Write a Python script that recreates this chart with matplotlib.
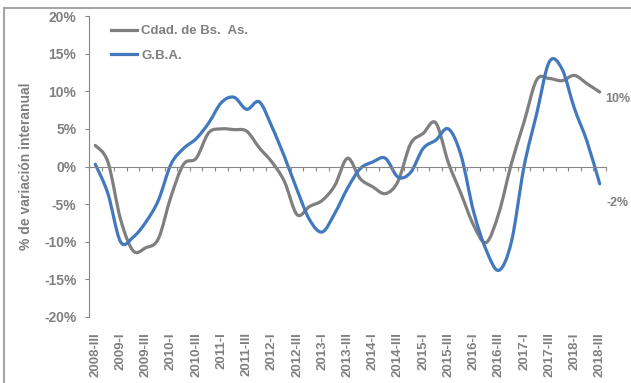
import numpy as np
import matplotlib.pyplot as plt
from matplotlib.path import Path
from matplotlib.patches import PathPatch
from matplotlib.lines import Line2D

plt.rcParams['font.family'] = ['Liberation Sans', 'DejaVu Sans']

# quarterly periods 2008-III .. 2018-III
years = list(range(2008, 2019))
roman = ['I', 'II', 'III', 'IV']
quarters = [f'{y}-{q}' for y in years for q in roman][2:-1]

caba = [2.8, 0.6, -7.0, -11.2, -10.8, -9.6, -4.0, 0.3, 1.1, 4.5,
        5.0, 4.9, 4.7, 2.5, 0.6, -2.0, -6.4, -5.3, -4.5, -2.5,
        1.1, -1.6, -2.7, -3.6, -2.0, 3.0, 4.4, 5.8, 0.5, -3.6,
        -7.8, -10.1, -6.2, 0.4, 5.9, 11.5, 11.7, 11.4, 12.1, 11.0,
        9.9]
gba = [0.3, -3.6, -10.0, -9.4, -7.4, -4.5, 0.3, 2.4, 3.7, 5.8,
       8.5, 9.2, 7.6, 8.6, 5.3, 1.3, -3.1, -7.1, -8.7, -6.2,
       -2.9, -0.3, 0.6, 1.1, -1.4, -0.8, 2.4, 3.5, 5.0, 1.5,
       -6.0, -11.1, -13.8, -10.0, 0.0, 7.0, 13.9, 13.0, 7.7, 3.3,
       -2.3]

GRAY = '#7f7f7f'
BLUE = '#4178be'
TXT = '#808080'
AXC = '#868686'


def smooth_path(ys):
    # excel-like smoothed line: bezier segments through the points
    pts = np.column_stack([np.arange(len(ys), dtype=float), ys])
    n = len(pts)
    verts = [pts[0]]
    codes = [Path.MOVETO]
    for i in range(n - 1):
        p0 = pts[max(i - 1, 0)]
        p1 = pts[i]
        p2 = pts[i + 1]
        p3 = pts[min(i + 2, n - 1)]
        verts += [p1 + (p2 - p0) / 6., p2 - (p3 - p1) / 6., p2]
        codes += [Path.CURVE4] * 3
    return Path(verts, codes)


fig = plt.figure(figsize=(6.31, 3.83), dpi=100)
ax = fig.add_axes([89/631, 1-317/383, 517/631, 301/383])

for ys, c in [(caba, GRAY), (gba, BLUE)]:
    ax.add_patch(PathPatch(smooth_path(ys), fill=False, edgecolor=c, lw=2.3,
                           capstyle='round', joinstyle='round'))

ax.set_xlim(-0.5, len(quarters) - 0.5)
ax.set_ylim(-20, 20)

# spines
for s in ['top', 'right']:
    ax.spines[s].set_visible(False)
ax.spines['left'].set_color(AXC)
ax.spines['bottom'].set_color(AXC)
ax.spines['bottom'].set_position(('data', 0))

ax.set_yticks(np.arange(-20, 21, 5))
ax.set_yticklabels([f'{v}%' for v in range(-20, 21, 5)])
ax.tick_params(axis='y', length=3, color=AXC, labelsize=10, labelcolor=TXT, pad=6)
for t in ax.get_yticklabels():
    t.set_fontweight('bold')

ax.set_xticks(np.arange(-0.5, len(quarters), 1))
ax.tick_params(axis='x', length=3, color=AXC, labelbottom=False)

sec = ax.secondary_xaxis('bottom')
sec.set_xticks(range(0, len(quarters), 2))
sec.set_xticklabels(quarters[::2], rotation=90, fontsize=9.5, fontweight='bold', color=TXT)
sec.tick_params(length=0, pad=11)
sec.spines['bottom'].set_visible(False)

ax.set_ylabel('% de variación interanual', fontsize=10, fontweight='bold', color=TXT)
ax.yaxis.set_label_coords(-0.108, 0.5)

handles = [Line2D([], [], color=GRAY, lw=2.3), Line2D([], [], color=BLUE, lw=2.3)]
leg = ax.legend(handles, ['Cdad. de Bs.  As.', 'G.B.A.'], loc='upper left',
                bbox_to_anchor=(22/517, 0.97), frameon=False, borderpad=0,
                borderaxespad=0, handlelength=2.0, handletextpad=0.3,
                labelspacing=0.95, prop={'size': 9.5, 'weight': 'bold'})
for t in leg.get_texts():
    t.set_color(TXT)

ax.annotate(f'{round(caba[-1])}%', xy=(len(caba) - 1, caba[-1]), xytext=(4, -5),
            textcoords='offset points', va='center', ha='left', fontsize=9,
            fontweight='bold', color=TXT, annotation_clip=False)
ax.annotate(f'{round(gba[-1])}%', xy=(len(gba) - 1, gba[-1]), xytext=(5, -14),
            textcoords='offset points', va='center', ha='left', fontsize=9,
            fontweight='bold', color=TXT, annotation_clip=False)

# chart area border (top and left visible)
fig.add_artist(Line2D([4/631, 1], [1-8/383, 1-8/383], transform=fig.transFigure,
                      color='#a6a6a6', lw=1.5))
fig.add_artist(Line2D([4/631, 4/631], [0, 1-8/383], transform=fig.transFigure,
                      color='#a6a6a6', lw=1.5))

fig.savefig('out.png', dpi=100)
